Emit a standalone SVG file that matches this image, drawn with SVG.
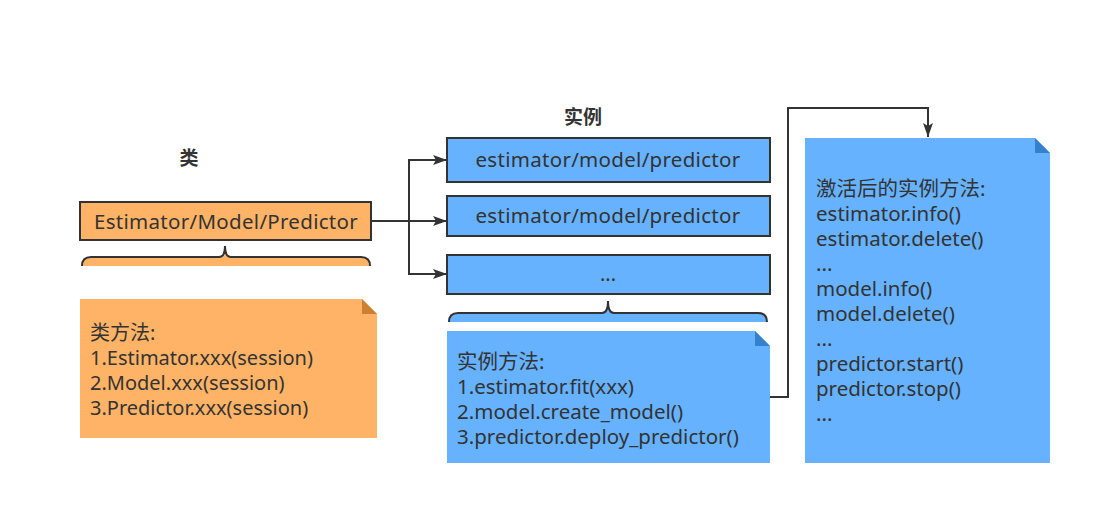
<svg xmlns="http://www.w3.org/2000/svg" width="1113" height="526" viewBox="0 0 1113 526">
<defs>
<style>
text{font-family:"Noto Sans","Noto Sans CJK SC",sans-serif;fill:#333333;font-size:20px}
.c{text-anchor:middle}
.t{font-size:20.5px;letter-spacing:0.3px}
.n{font-size:20.5px}
.b{font-weight:bold;font-size:19px}
.box{stroke:#333333;stroke-width:2}
.or{fill:#FFB366}
.bl{fill:#66B2FF}
.brace{stroke:#333333;stroke-width:2}
.conn{fill:none;stroke:#333333;stroke-width:2}
</style>
<marker id="arr" markerWidth="16" markerHeight="12" refX="14" refY="5" orient="auto" markerUnits="userSpaceOnUse">
<path d="M0,0 L14,5 L0,10 L3,5 Z" fill="#333333"/>
</marker>
</defs>
<rect width="1113" height="526" fill="#ffffff"/>

<g id="label-class"><text class="c b" x="189" y="165">类</text></g>
<g id="label-instance"><text class="c b" x="583" y="124">实例</text></g>

<g id="class-box">
<rect class="box or" x="80" y="202" width="291" height="38"/>
<text class="c t" x="226" y="229">Estimator/Model/Predictor</text>
</g>

<g id="class-brace">
<path class="or" d="M82,266 Q82,257 91,257 L219,257 Q225,257 225,246 Q225,257 231,257 L361,257 Q370,257 370,266 Z"/>
<path class="brace" fill="none" d="M82,266 Q82,257 91,257 L219,257 Q225,257 225,246 Q225,257 231,257 L361,257 Q370,257 370,266"/>
</g>

<g id="class-note">
<path class="or" d="M80,299 L362,299 L377,314 L377,438 L80,438 Z"/>
<path d="M362,299 L377,314 L362,314 Z" fill="#CC8033"/>
<text x="90" y="340">类方法:</text>
<text x="90" y="365">1.Estimator.xxx(session)</text>
<text x="90" y="390">2.Model.xxx(session)</text>
<text x="90" y="415">3.Predictor.xxx(session)</text>
</g>

<g id="instance-1">
<rect class="box bl" x="447" y="138" width="323" height="44"/>
<text class="c t" x="608" y="167">estimator/model/predictor</text>
</g>
<g id="instance-2">
<rect class="box bl" x="447" y="196" width="323" height="40"/>
<text class="c t" x="608" y="223">estimator/model/predictor</text>
</g>
<g id="instance-3">
<rect class="box bl" x="447" y="255" width="323" height="39"/>
<text class="c" x="608" y="281">...</text>
</g>

<g id="instance-brace">
<path class="bl" d="M449,322 Q449,313 458,313 L602,313 Q608,313 608,301 Q608,313 614,313 L758,313 Q767,313 767,322 Z"/>
<path class="brace" fill="none" d="M449,322 Q449,313 458,313 L602,313 Q608,313 608,301 Q608,313 614,313 L758,313 Q767,313 767,322"/>
</g>

<g id="instance-note">
<path class="bl" d="M447,331 L755,331 L770,346 L770,463 L447,463 Z"/>
<path d="M755,331 L770,346 L755,346 Z" fill="#3380CC"/>
<text class="n" x="457" y="369">实例方法:</text>
<text class="n" x="457" y="394">1.estimator.fit(xxx)</text>
<text class="n" x="457" y="419">2.model.create_model()</text>
<text class="n" x="457" y="444">3.predictor.deploy_predictor()</text>
</g>

<g id="active-note">
<path class="bl" d="M805,138 L1035,138 L1050,153 L1050,463 L805,463 Z"/>
<path d="M1035,138 L1050,153 L1035,153 Z" fill="#3380CC"/>
<text class="n" x="816" y="196">激活后的实例方法:</text>
<text class="n" x="816" y="221">estimator.info()</text>
<text class="n" x="816" y="246">estimator.delete()</text>
<text class="n" x="816" y="271">...</text>
<text class="n" x="816" y="296">model.info()</text>
<text class="n" x="816" y="321">model.delete()</text>
<text class="n" x="816" y="346">...</text>
<text class="n" x="816" y="371">predictor.start()</text>
<text class="n" x="816" y="396">predictor.stop()</text>
<text class="n" x="816" y="421">...</text>
</g>

<g id="connectors">
<path class="conn" d="M371,221 L409,221 L409,160 L447,160" marker-end="url(#arr)"/>
<path class="conn" d="M409,221 L447,221" marker-end="url(#arr)"/>
<path class="conn" d="M409,221 L409,274 L447,274" marker-end="url(#arr)"/>
<path class="conn" d="M770,397 L788,397 L788,108 L928,108 L928,137" marker-end="url(#arr)"/>
</g>
</svg>
